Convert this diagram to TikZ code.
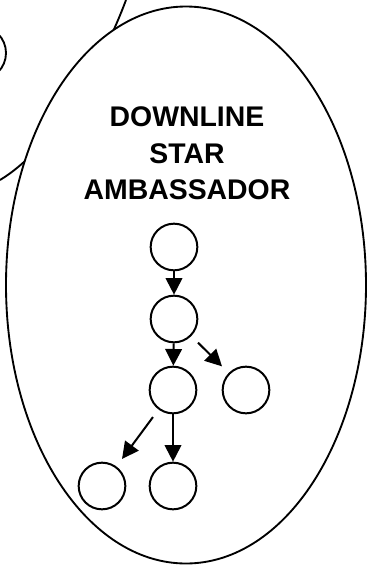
\documentclass[tikz,border=0pt]{standalone}
\usepackage{fontspec}
\setmainfont{Liberation Sans}
\usetikzlibrary{shapes.geometric, arrows.meta}

\begin{document}
\begin{tikzpicture}[x=0.75pt, y=-0.75pt,
    member/.style={circle, draw, line width=1.5pt, minimum size=35pt, inner sep=0pt},
    arr/.style={line width=1.5pt, -{Triangle[length=12.5pt, width=12.5pt]}}]
    \useasboundingbox (0,0) rectangle (368,571);
    \clip (0,0) rectangle (368,571);

    % 背後にある別の楕円と円の一部
    \coordinate (top) at (126,0);
    \coordinate (left) at (0,180);
    \draw[line width=1.4pt] (top) .. controls (100,70) and (50,150) .. (left);
    \node[circle, draw, line width=1.4pt, minimum size=40.5pt, inner sep=0pt] (up) at (-21,53) {};

    % ダウンラインの楕円
    \node[ellipse, draw, fill=white, line width=1.4pt, minimum width=270pt, minimum height=417.75pt, inner sep=0pt] (star) at (186,285) {};
    \node[font=\bfseries\fontsize{21.3}{27.4}\selectfont, align=center] (title) at (187,153.5) {DOWNLINE\\STAR\\AMBASSADOR};

    \node[member] (a) at (174,247) {};
    \node[member] (b) at (174,319) {};
    \node[member] (c) at (173,390) {};
    \node[member] (d) at (246,390) {};
    \node[member] (e) at (102,486) {};
    \node[member] (f) at (173,486) {};

    \draw[arr] (a) -- (b);
    \draw[arr] (b) -- (c);
    \draw[arr, shorten <=7pt, shorten >=7pt] (b) -- (d);
    \draw[arr, shorten <=7pt, shorten >=7pt] (c) -- (e);
    \draw[arr] (c) -- (f);

\end{tikzpicture}
\end{document}
